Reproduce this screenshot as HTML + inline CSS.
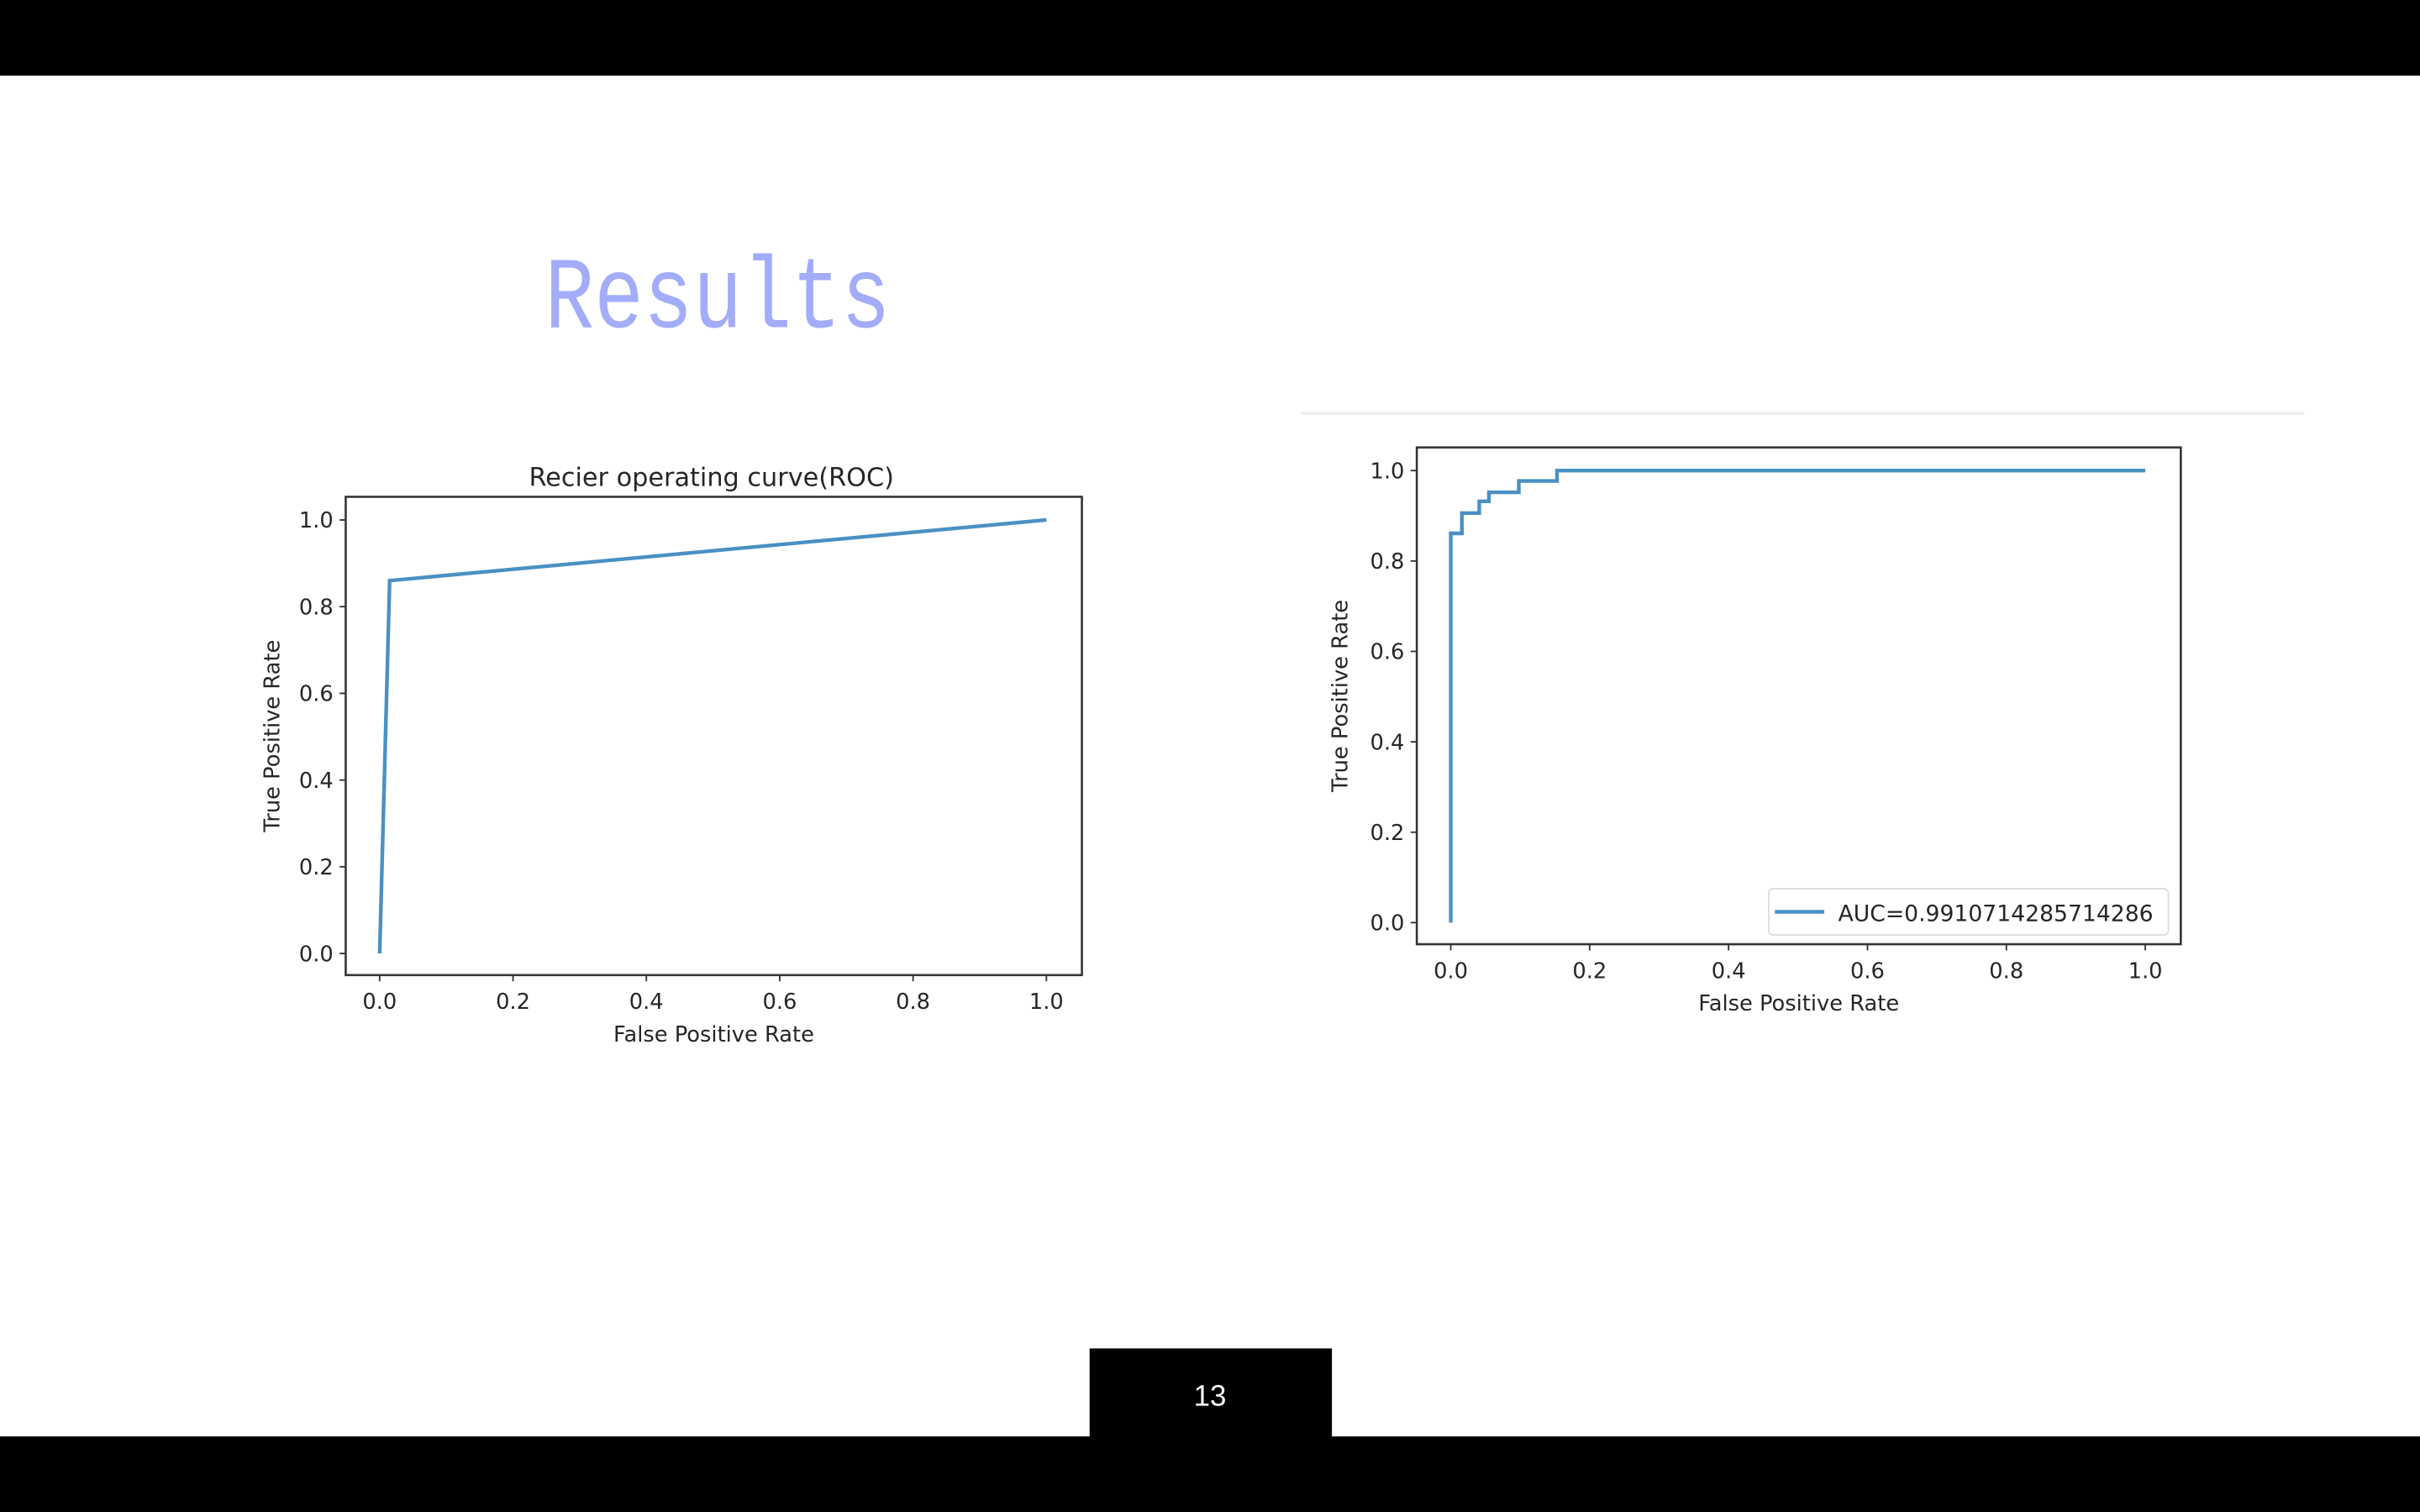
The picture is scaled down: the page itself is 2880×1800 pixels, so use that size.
<!DOCTYPE html>
<html><head><meta charset="utf-8"><style>
html,body{margin:0;padding:0;background:#fff;width:2880px;height:1800px;overflow:hidden}
svg text{font-family:"DejaVu Sans","Liberation Sans",sans-serif;fill:#262626}
</style></head><body>
<svg id="s" width="2880" height="1800" viewBox="0 0 1568 980" xmlns="http://www.w3.org/2000/svg">
<rect x="0" y="0" width="1568" height="49" fill="#000"/>
<rect x="0" y="931" width="1568" height="49" fill="#000"/>
<rect x="706" y="874" width="157" height="57" fill="#000"/>
<text x="784" y="911" text-anchor="middle" font-size="19" style="fill:#fff;font-family:'Liberation Sans',sans-serif">13</text>
<text x="353" y="212" font-size="66" textLength="224" lengthAdjust="spacingAndGlyphs" style="fill:#a3acf9;font-family:'Liberation Mono',monospace">Results</text>
<line x1="843" y1="268" x2="1493" y2="268" stroke="#eeeeee" stroke-width="2"/>
<g id="left"></g>
<g id="right"></g>
</svg>
<script>
// Left chart data
const leftFpr = [0, 0.015, 1];
const leftTpr = [0, 0.86, 1];
// Right chart data (step ROC)
const rightFpr = [0, 0, 0.016, 0.016, 0.041, 0.041, 0.055, 0.055, 0.098, 0.098, 0.153, 0.153, 1];
const rightTpr = [0, 0.861, 0.861, 0.906, 0.906, 0.932, 0.932, 0.952, 0.952, 0.977, 0.977, 1, 1];
const tickValues = [0, 0.2, 0.4, 0.6, 0.8, 1.0];
const tickLabels = ["0.0", "0.2", "0.4", "0.6", "0.8", "1.0"];
const aucLabel = "AUC=0.9910714285714286";

const NS = "http://www.w3.org/2000/svg";
function mk(parent, tag, attrs, text) {
  const e = document.createElementNS(NS, tag);
  for (const k in attrs) e.setAttribute(k, attrs[k]);
  if (text !== undefined) e.textContent = text;
  parent.appendChild(e);
  return e;
}
function drawChart(g, cfg, fpr, tpr) {
  const sx = v => cfg.x0 + v * (cfg.x1 - cfg.x0);
  const sy = v => cfg.y0 + v * (cfg.y1 - cfg.y0);
  const frame = mk(g, "rect", {x: cfg.bx0, y: cfg.by0, width: cfg.bx1 - cfg.bx0, height: cfg.by1 - cfg.by0, fill: "none", stroke: "#333", "stroke-width": 1.4});
  
  
  tickValues.forEach((v, i) => {
    const x = sx(v);
    const t = mk(g, "line", {x1: x, x2: x, y1: cfg.by1, y2: cfg.by1 + 4, stroke: "#333", "stroke-width": 1});
    
    
    const l = mk(g, "text", {x: x, y: cfg.by1 + 22, "text-anchor": "middle", "font-size": 14}, tickLabels[i]);
    
    
    const y = sy(v);
    const t2 = mk(g, "line", {x1: cfg.bx0 - 4, x2: cfg.bx0, y1: y, y2: y, stroke: "#333", "stroke-width": 1});
    
    
    const l2 = mk(g, "text", {x: cfg.bx0 - 8, y: y + 5, "text-anchor": "end", "font-size": 14}, tickLabels[i]);
    
    
  });
  const pts = fpr.map((v, i) => sx(v).toFixed(2) + "," + sy(tpr[i]).toFixed(2)).join(" ");
  const line = mk(g, "polyline", {points: pts, fill: "none", stroke: "#4a90c4", "stroke-width": 2.4, "stroke-linejoin": "miter"});
  
  
  const xl = mk(g, "text", {x: (cfg.bx0 + cfg.bx1) / 2, y: cfg.by1 + 43, "text-anchor": "middle", "font-size": 14}, "False Positive Rate");
  
  
  const cy = (cfg.by0 + cfg.by1) / 2;
  const yl = mk(g, "text", {x: cfg.ylx, y: cy, "text-anchor": "middle", "font-size": 14, transform: "rotate(-90 " + cfg.ylx + " " + cy + ")"}, "True Positive Rate");
  
  
}
const L = document.getElementById("left");
drawChart(L, {bx0: 224, bx1: 701, by0: 322, by1: 632, x0: 246, x1: 678, y0: 618, y1: 337, ylx: 181}, leftFpr, leftTpr);
const title = mk(L, "text", {x: 461, y: 315, "text-anchor": "middle", "font-size": 16.5}, "Recier operating curve(ROC)");



const R = document.getElementById("right");
drawChart(R, {bx0: 918, bx1: 1413, by0: 290, by1: 612, x0: 940, x1: 1390, y0: 598, y1: 305, ylx: 873}, rightFpr, rightTpr);
const lg = mk(R, "g", {});


mk(lg, "rect", {x: 1146, y: 576, width: 259, height: 30, rx: 3, fill: "#fff", stroke: "#ddd", "stroke-width": 1});
const ll = mk(lg, "line", {x1: 1150, x2: 1182, y1: 591, y2: 591, stroke: "#4a90c4", "stroke-width": 2.4});


const lt = mk(lg, "text", {x: 1191, y: 597, "font-size": 14.5}, aucLabel);


</script>
</body></html>
